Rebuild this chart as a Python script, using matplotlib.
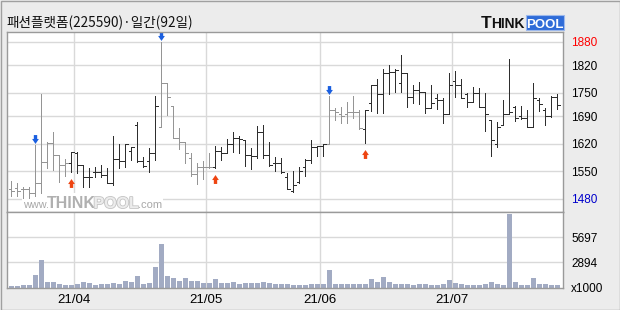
import matplotlib
matplotlib.use('Agg')
import matplotlib.pyplot as plt
from matplotlib import font_manager
from matplotlib.collections import LineCollection
from matplotlib.path import Path
from matplotlib.patches import Rectangle
import matplotlib.transforms as mtransforms
import matplotlib.patheffects as pe

# ---------------- data (daily OHLC, volume in thousands) ----------------
opens = [1504, 1508, 1504, 1504, 1494, 1519, 1574, 1621, 1591, 1566,
         1572, 1597, 1566, 1536, 1549, 1549, 1540, 1519, 1581, 1576,
         1602, 1669, 1576, 1576, 1596, 1663, 1774, 1716, 1634, 1624,
         1584, 1543, 1562, 1562, 1560, 1601, 1596, 1619, 1635, 1630,
         1591, 1589, 1649, 1591, 1570, 1572, 1536, 1500, 1523, 1562,
         1579, 1612, 1614, 1619, 1706, 1695, 1695, 1700, 1700, 1657,
         1725, 1770, 1748, 1801, 1804, 1774, 1799, 1740, 1757, 1753,
         1710, 1736, 1731, 1695, 1780, 1770, 1748, 1727, 1750, 1714,
         1680, 1619, 1669, 1695, 1714, 1691, 1685, 1663, 1731, 1706,
         1691, 1740]
highs = [1526, 1521, 1511, 1511, 1617, 1748, 1624, 1649, 1591, 1581,
         1600, 1600, 1566, 1557, 1562, 1566, 1557, 1640, 1619, 1619,
         1612, 1675, 1585, 1608, 1742, 1880, 1774, 1716, 1659, 1625,
         1597, 1572, 1576, 1596, 1614, 1611, 1632, 1649, 1640, 1630,
         1608, 1665, 1669, 1625, 1585, 1584, 1546, 1550, 1562, 1580,
         1630, 1614, 1619, 1742, 1710, 1714, 1727, 1742, 1706, 1706,
         1770, 1784, 1810, 1821, 1810, 1846, 1799, 1770, 1778, 1753,
         1770, 1747, 1737, 1799, 1805, 1785, 1750, 1764, 1761, 1750,
         1680, 1675, 1731, 1836, 1716, 1716, 1706, 1776, 1736, 1712,
         1742, 1748]
lows = [1488, 1488, 1481, 1481, 1488, 1494, 1557, 1553, 1523, 1539,
        1549, 1545, 1509, 1509, 1536, 1536, 1519, 1515, 1557, 1562,
        1579, 1574, 1560, 1549, 1579, 1663, 1693, 1634, 1606, 1570,
        1539, 1517, 1529, 1557, 1557, 1579, 1596, 1600, 1596, 1564,
        1556, 1583, 1584, 1563, 1550, 1545, 1504, 1498, 1519, 1539,
        1570, 1589, 1589, 1619, 1680, 1672, 1674, 1685, 1657, 1623,
        1704, 1699, 1699, 1748, 1753, 1753, 1714, 1723, 1721, 1699,
        1710, 1708, 1674, 1695, 1740, 1736, 1714, 1727, 1713, 1653,
        1590, 1611, 1669, 1695, 1679, 1682, 1663, 1663, 1704, 1669,
        1689, 1708]
closes = [1500, 1500, 1504, 1494, 1519, 1574, 1621, 1591, 1566, 1570,
          1600, 1566, 1536, 1536, 1549, 1540, 1519, 1581, 1576, 1619,
          1612, 1576, 1564, 1596, 1716, 1774, 1740, 1634, 1625, 1596,
          1543, 1562, 1562, 1560, 1601, 1596, 1619, 1635, 1632, 1591,
          1589, 1649, 1591, 1566, 1572, 1549, 1504, 1515, 1550, 1579,
          1612, 1614, 1619, 1706, 1702, 1691, 1700, 1700, 1659, 1706,
          1770, 1748, 1801, 1804, 1808, 1799, 1740, 1757, 1753, 1710,
          1725, 1731, 1695, 1770, 1770, 1736, 1727, 1750, 1714, 1695,
          1630, 1663, 1695, 1700, 1685, 1686, 1663, 1736, 1721, 1691,
          1740, 1720]
volumes = [170, 170, 284, 284, 1421, 3127, 625, 625, 398, 284,
           284, 398, 625, 512, 284, 398, 398, 512, 398, 739,
           625, 1308, 398, 512, 2331, 4946, 1308, 1080, 739, 1080,
           739, 739, 512, 512, 966, 512, 512, 625, 398, 512,
           512, 512, 625, 512, 398, 398, 398, 284, 284, 284,
           398, 398, 398, 1990, 398, 398, 398, 398, 398, 398,
           966, 625, 1194, 625, 398, 398, 398, 284, 398, 398,
           284, 284, 398, 853, 512, 398, 284, 284, 284, 398,
           625, 398, 284, 8357, 625, 284, 284, 1080, 398, 398,
           284, 284]

month_labels = ['21/04', '21/05', '21/06', '21/07']
month_starts = [11, 33, 52, 74]          # index of first trading day of month
price_ticks = [1880, 1820, 1750, 1690, 1620, 1550, 1480]
vol_ticks = [2894, 5697]
sell_signals = [4, 25, 53]               # blue down arrows
buy_signals = [10, 34, 59]               # red up arrows
title = '패션플랫폼(225590)·일간(92일)'

# ---------------- figure ----------------
W, H = 620, 310
fig = plt.figure(figsize=(6.2, 3.1), dpi=100)
fig.patch.set_facecolor('#ececec')


def fx(x):
    return x / W


def fy(y):
    return 1 - y / H


try:
    font_manager.findfont('Liberation Sans Narrow', fallback_to_default=False)
    num_font, num_size = 'Liberation Sans Narrow', 10
except Exception:
    num_font, num_size = 'Liberation Sans', 8.5

left, right = 7, 563
top_p, mid, bot = 31.7, 212, 287.5
ax1 = fig.add_axes([fx(left), fy(mid), fx(right - left), (mid - top_p) / H])
ax2 = fig.add_axes([fx(left), fy(bot), fx(right - left), (bot - mid) / H])

n = len(closes)
grid_c = '#d9d9d9'
for ax in (ax1, ax2):
    ax.set_facecolor('white')
    ax.set_xlim(-0.72, 91.95)
    for s in ax.spines.values():
        s.set_color('#9a9a9a')
        s.set_linewidth(1.0)
        s.set_zorder(5)
    ax.tick_params(length=0)
    ax.yaxis.tick_right()
    for m in month_starts:
        ax.axvline(m - 0.5, color=grid_c, lw=1.0, zorder=0)

# ---- price panel ----
ax1.set_ylim(1446.1, 1905.5)
ax1.set_xticks([])
for t in price_ticks:
    ax1.axhline(t, color=grid_c, lw=1.0, zorder=0)
ax1.set_yticks(price_ticks)
ax1.set_yticklabels([str(t) for t in price_ticks], fontfamily=num_font,
                    fontsize=num_size)
ax1.tick_params(axis='y', pad=5.8)
labs = ax1.get_yticklabels()
for lab, t in zip(labs, price_ticks):
    if t == max(price_ticks):
        lab.set_color('#ff0000')
    elif t == min(price_ticks):
        lab.set_color('#0000cc')
    else:
        lab.set_color('black')

# bar colors: light after a sell signal (or before any buy), dark after buy
events = sorted([(i, 'buy') for i in buy_signals] + [(i, 'sell') for i in sell_signals])
segs, cols = [], []
tick = 0.45
for i in range(n):
    state = 'sell'
    for j, kind in events:
        if j <= i:
            state = kind
    c = '#2e2e2e' if state == 'buy' else '#959595'
    segs += [[(i, lows[i]), (i, highs[i])],
             [(i - tick, opens[i]), (i, opens[i])],
             [(i, closes[i]), (i + tick, closes[i])]]
    cols += [c, c, c]
lc = LineCollection(segs, colors=cols, linewidths=0.72, antialiaseds=False,
                    zorder=3, capstyle='butt')
ax1.add_collection(lc)

# signal arrows
down_arrow = Path([(-0.19, 0.5), (0.19, 0.5), (0.19, 0.06), (0.38, 0.06),
                   (0, -0.5), (-0.38, 0.06), (-0.19, 0.06), (-0.19, 0.5)])
up_arrow = Path([(-0.19, -0.5), (0.19, -0.5), (0.19, -0.06), (0.38, -0.06),
                 (0, 0.5), (-0.38, -0.06), (-0.19, -0.06), (-0.19, -0.5)])
tr_up = mtransforms.offset_copy(ax1.transData, fig=fig, x=0, y=6, units='dots')
tr_dn = mtransforms.offset_copy(ax1.transData, fig=fig, x=0, y=-11, units='dots')
ax1.plot(sell_signals, [highs[i] for i in sell_signals], linestyle='none',
         marker=down_arrow, markersize=6.4, color='#1a5fe0', mec='#1a5fe0',
         mew=0, transform=tr_up, zorder=4, clip_on=False)
ax1.plot(buy_signals, [lows[i] for i in buy_signals], linestyle='none',
         marker=up_arrow, markersize=6.4, color='#ee4411', mec='#ee4411',
         mew=0, transform=tr_dn, zorder=4, clip_on=False)

# watermark
ax1.add_patch(Rectangle((fx(22), fy(212)), fx(141), 19 / H,
                        transform=fig.transFigure, fc='white', ec='none',
                        zorder=0.5))
wm_y = fy(208)
ax1.text(fx(23), wm_y, 'www.', transform=fig.transFigure, fontsize=7.8,
         family='Liberation Sans', color='#a8a8a8', va='baseline', zorder=1)
ax1.text(fx(47), wm_y, 'THINK', transform=fig.transFigure, fontsize=11.5,
         family='Liberation Sans', weight='bold', color='#b0b0b0',
         va='baseline', zorder=1)
ax1.text(fx(93.5), wm_y, 'POOL', transform=fig.transFigure, fontsize=11.5,
         family='Liberation Sans', weight='bold', color='#ececec',
         va='baseline', zorder=1,
         path_effects=[pe.withStroke(linewidth=1.2, foreground='#c4c4c4')])
ax1.text(fx(138), wm_y, '.com', transform=fig.transFigure, fontsize=8,
         family='Liberation Sans', color='#a8a8a8', va='baseline', zorder=1)

# ---- volume panel ----
ax2.set_ylim(0, 8602)
for t in vol_ticks:
    ax2.axhline(t, color=grid_c, lw=1.0, zorder=0)
ax2.bar(range(n), volumes, width=0.78, color='#a2abc3', zorder=2, linewidth=0)
ax2.set_yticks([0] + vol_ticks)
ax2.set_yticklabels(['x1000'] + [str(t) for t in vol_ticks],
                    fontfamily=num_font, fontsize=num_size)
ax2.tick_params(axis='y', pad=5.8)
ax2.set_xticks([m - 0.5 for m in month_starts])
ax2.set_xticklabels(month_labels, fontfamily='Liberation Sans', fontsize=9.5)
ax2.tick_params(axis='x', pad=5.0)

# ---- title and logo ----
fig.text(fx(6), fy(23), title, fontsize=9.8,
         family=['Noto Sans CJK KR', 'DejaVu Sans'], va='center', ha='left',
         color='#111111')
fig.text(fx(481), fy(28.5), 'T', fontsize=12.5, family='Liberation Sans',
         weight='bold', color='#111111', va='baseline')
fig.text(fx(491.5), fy(28.5), 'HINK', fontsize=10, family='Liberation Sans',
         weight='bold', color='#111111', va='baseline')
fig.patches.append(Rectangle((fx(526), fy(29.5)), fx(38), 14.5 / H,
                             transform=fig.transFigure, fc='#2f6cd8',
                             ec='#9db9ec', lw=0.8))
fig.text(fx(545), fy(28.5), 'POOL', fontsize=9.5, family='Liberation Sans',
         weight='bold', color='white', va='baseline', ha='center')

# outer border
fig.patches.append(Rectangle((0.5 / W, 0.5 / H), 1 - 1 / W, 1 - 1 / H,
                             transform=fig.transFigure, fill=False,
                             ec='#a0a0a0', lw=1.0))

fig.savefig('out.png', dpi=100, facecolor=fig.get_facecolor())
